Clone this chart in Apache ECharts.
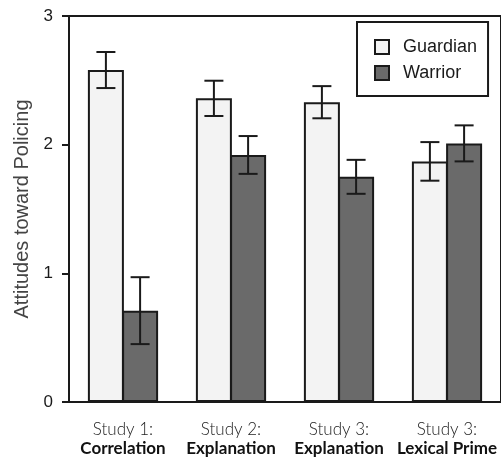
<!DOCTYPE html>
<html>
<head>
<meta charset="utf-8">
<script src="https://cdn.jsdelivr.net/npm/echarts@6/dist/echarts.min.js"></script>
<style>html,body{margin:0;padding:0;background:#fff;}#c{width:501px;height:461px;}</style>
</head>
<body>
<div id="c"></div>
<script>
const studies = ['Study 1:', 'Study 2:', 'Study 3:', 'Study 3:'];
const conditions = ['Correlation', 'Explanation', 'Explanation', 'Lexical Prime'];
const guardian = [2.58, 2.36, 2.33, 1.87];
const guardianErr = [0.14, 0.137, 0.125, 0.15];
const warrior = [0.71, 1.92, 1.75, 2.01];
const warriorErr = [0.26, 0.147, 0.132, 0.14];
const yTicks = [0, 1, 2, 3];

const categories = studies.map((s, i) => s + '\n' + conditions[i]);
const BAR_W = 36;
const GAP = -0.05;
const HALF = BAR_W * (1 + GAP) / 2;

function errSeries(name, means, errs, offset) {
  return {
    type: 'custom',
    name: name + ' err',
    z: 10,
    silent: true,
    data: means.map((m, i) => [i, m, errs[i]]),
    renderItem: function (params, api) {
      const c = api.coord([api.value(0), api.value(1)]);
      const hi = api.coord([api.value(0), api.value(1) + api.value(2)]);
      const lo = api.coord([api.value(0), api.value(1) - api.value(2)]);
      const x = c[0] + offset;
      const cap = 9.5;
      const st = { stroke: '#1a1a1a', lineWidth: 2 };
      return {
        type: 'group',
        children: [
          { type: 'line', shape: { x1: x, y1: hi[1], x2: x, y2: lo[1] }, style: st },
          { type: 'line', shape: { x1: x - cap, y1: hi[1], x2: x + cap, y2: hi[1] }, style: st },
          { type: 'line', shape: { x1: x - cap, y1: lo[1], x2: x + cap, y2: lo[1] }, style: st }
        ]
      };
    }
  };
}

const chart = echarts.init(document.getElementById('c'));
chart.setOption({
  animation: false,
  backgroundColor: '#fff',
  grid: { left: 69, top: 16, width: 436, height: 386, show: true, borderColor: '#1a1a1a', borderWidth: 2, backgroundColor: 'transparent' },
  legend: {
    data: ['Guardian', 'Warrior'],
    orient: 'vertical',
    left: 357, top: 22,
    padding: [16, 11, 14, 17],
    borderColor: '#1a1a1a', borderWidth: 2,
    icon: 'rect',
    itemWidth: 14, itemHeight: 14, itemGap: 8,
    textStyle: { fontFamily: 'Liberation Sans', fontSize: 18, color: '#1a1a1a', padding: [0, 0, 0, 9] }
  },
  xAxis: {
    type: 'category',
    data: categories,
    axisLine: { lineStyle: { color: '#1a1a1a', width: 2 } },
    axisTick: { alignWithLabel: true, length: 8, lineStyle: { color: '#1a1a1a', width: 2 } },
    axisLabel: {
      margin: 19,
      interval: 0,
      formatter: function (v) { const p = v.split('\n'); return '{a|' + p[0] + '}\n{b|' + p[1] + '}'; },
      rich: {
        a: { fontFamily: 'Lato', fontWeight: 300, fontSize: 17, color: '#222', lineHeight: 18 },
        b: { fontFamily: 'Lato', fontWeight: 'bold', fontSize: 17, color: '#111', lineHeight: 19 }
      }
    }
  },
  yAxis: {
    type: 'value',
    min: yTicks[0], max: yTicks[yTicks.length - 1], interval: 1,
    name: 'Attitudes toward Policing',
    nameLocation: 'middle',
    nameGap: 37,
    nameTextStyle: { fontFamily: 'Liberation Sans', fontSize: 20, color: '#444' },
    axisLine: { show: true, lineStyle: { color: '#1a1a1a', width: 2 } },
    axisTick: { show: true, length: 7, lineStyle: { color: '#1a1a1a', width: 2 } },
    axisLabel: { margin: 16, fontFamily: 'Liberation Sans', fontSize: 17, color: '#1a1a1a' },
    splitLine: { show: false }
  },
  series: [
    { type: 'bar', name: 'Guardian', data: guardian, barWidth: BAR_W, barGap: (GAP * 100) + '%',
      itemStyle: { color: '#f3f3f3', borderColor: '#1a1a1a', borderWidth: 2 } },
    { type: 'bar', name: 'Warrior', data: warrior, barWidth: BAR_W, barGap: (GAP * 100) + '%',
      itemStyle: { color: '#6a6a6a', borderColor: '#1a1a1a', borderWidth: 2 } },
    errSeries('Guardian', guardian, guardianErr, -HALF),
    errSeries('Warrior', warrior, warriorErr, HALF)
  ]
});
</script>
</body>
</html>
